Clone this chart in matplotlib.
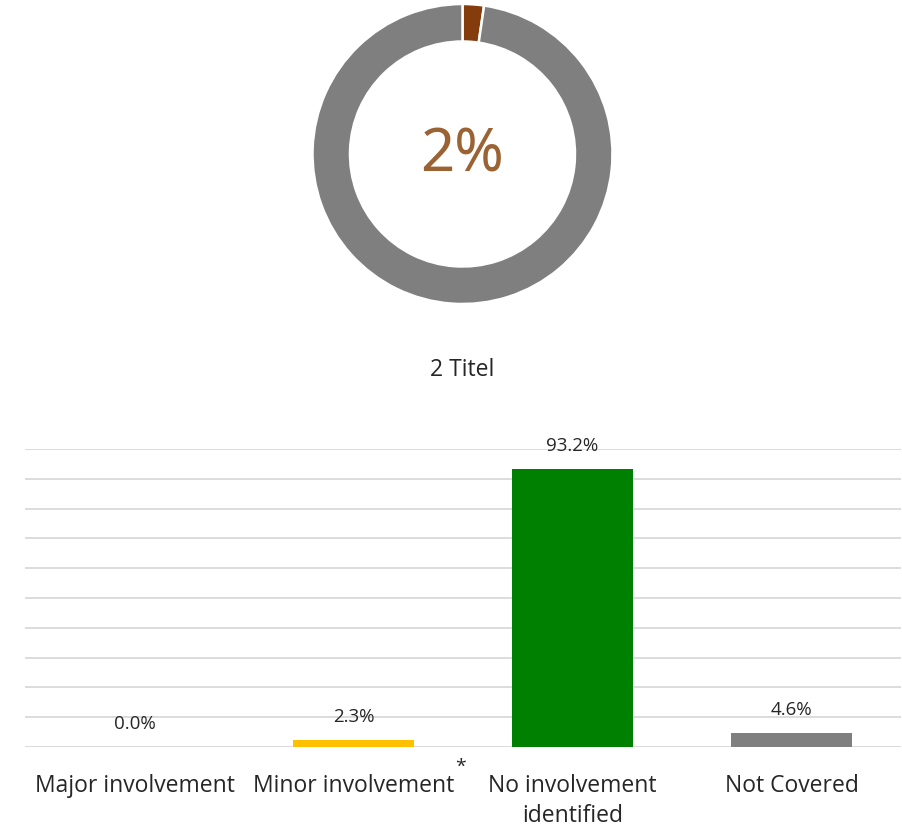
import matplotlib.pyplot as plt
import numpy as np

plt.rcParams['font.family'] = ['Open Sans', 'DejaVu Sans']

# donut data
donut_values = [2.3, 97.7]
donut_colors = ["#843C0C", "#7F7F7F"]
donut_label = "2%"
donut_title = "2 Titel"

# bar data
categories = ["Major involvement", "Minor involvement", "No involvement\nidentified", "Not Covered"]
values = [0.0, 2.3, 93.2, 4.6]
bar_colors = ["#843C0C", "#FFC000", "#008000", "#7F7F7F"]
value_labels = ["0.0%", "2.3%", "93.2%", "4.6%"]

W, H = 903, 828
fig = plt.figure(figsize=(W / 100, H / 100), dpi=100)

def px_axes(left, top, right, bottom):
    return fig.add_axes([left / W, 1 - bottom / H, (right - left) / W, (bottom - top) / H])

txt = "#262626"

# donut
ax1 = px_axes(312.5, 5, 612.5, 305)
ax1.pie(donut_values, colors=donut_colors, startangle=90, counterclock=False,
        radius=1.0, wedgeprops=dict(width=0.25, edgecolor="white", linewidth=1.8))
ax1.set_xlim(-1.0, 1.0)
ax1.set_ylim(-1.0, 1.0)
ax1.set_aspect("equal")
ax1.text(0, -0.005, donut_label, ha="center", va="center", fontsize=43,
         color="#9B6333", family=["Noto Sans", "DejaVu Sans"])
ax1.axis("off")

fig.text(462 / W, 1 - 370 / H, donut_title, ha="center", va="center",
         fontsize=16.5, color=txt)

# bars
ax2 = px_axes(25, 450, 901, 748)
x = np.arange(len(categories))
ax2.bar(x, values, width=0.557, color=bar_colors, zorder=3)
ax2.set_xlim(-0.5, len(categories) - 0.5)
ax2.set_ylim(0, 100)
ax2.set_yticks(np.arange(0, 101, 10))
ax2.yaxis.grid(True, color="#D9D9D9", linewidth=1.3, zorder=0)
ax2.tick_params(axis="y", left=False, labelleft=False)
ax2.tick_params(axis="x", bottom=False, pad=15)
ax2.set_xticks(x)
ax2.set_xticklabels(categories, fontsize=16.5, color=txt,
                    linespacing=1.33, va="top")
for s in ax2.spines.values():
    s.set_visible(False)

for xi, v, lab in zip(x, values, value_labels):
    ax2.annotate(lab, (xi, v), xytext=(0, 17.3), textcoords="offset points",
                 ha="center", va="center", fontsize=13.5, color=txt)

fig.text(461 / W, 1 - 767 / H, "*", ha="center", va="center", fontsize=14, color=txt)

fig.savefig("out.png", dpi=100)
